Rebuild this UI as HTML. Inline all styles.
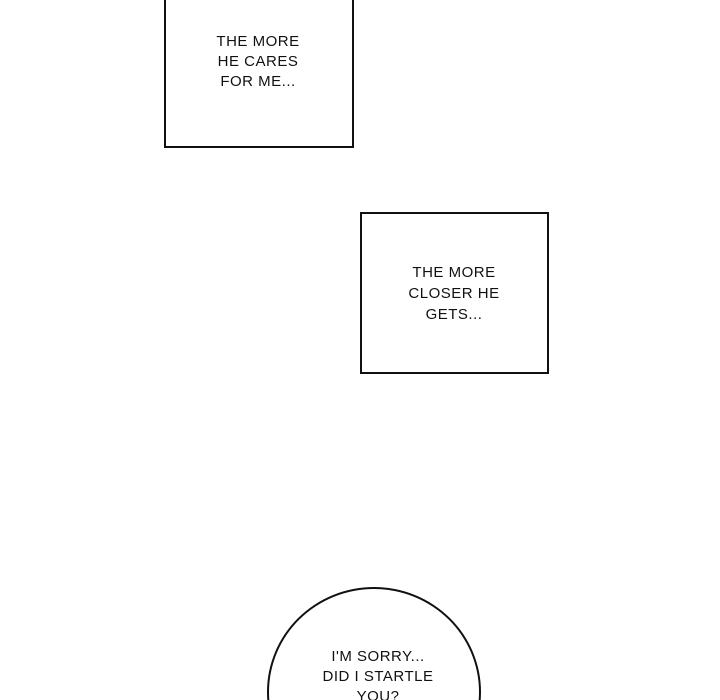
<!DOCTYPE html>
<html style="margin:0;width:720px;height:700px;overflow:hidden"><head><style>
body{margin:0;width:720px;height:700px;background:#fff;position:relative;overflow:hidden;font-family:"Liberation Sans",sans-serif;}
.b{position:absolute;border:2px solid #111;box-sizing:border-box;background:#fff}
.t{position:absolute;text-align:center;font-size:15px;line-height:20px;color:#111;letter-spacing:0.5px;transform:translateX(-50%);white-space:nowrap}
</style></head><body>
<div class="b" style="left:164px;top:-4px;width:190px;height:152px"></div>
<div class="t" style="left:258px;top:32px">THE MORE<br>HE CARES<br>FOR ME...</div>
<div class="b" style="left:360px;top:212px;width:189px;height:162px"></div>
<div class="t" style="left:454px;top:262px;line-height:21px">THE MORE<br>CLOSER HE<br>GETS...</div>
<div class="b" style="left:267px;top:587px;width:214px;height:210px;border-radius:50%"></div>
<div class="t" style="left:378px;top:647px">I'M SORRY...<br>DID I STARTLE<br>YOU?</div>
</body></html>
